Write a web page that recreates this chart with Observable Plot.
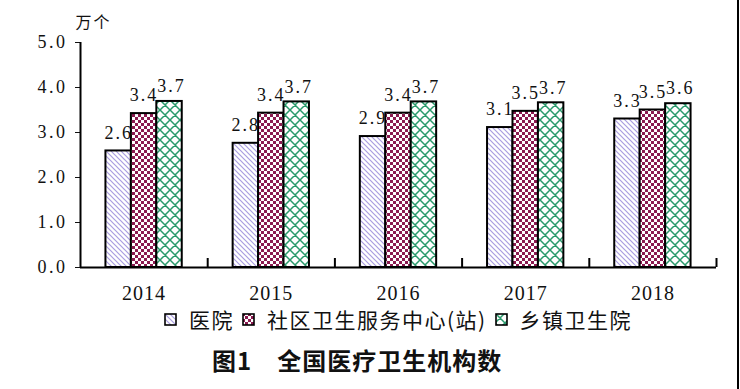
<!DOCTYPE html>
<html><head><meta charset="utf-8">
<script src="https://cdn.jsdelivr.net/npm/d3@7"></script>
<script src="https://cdn.jsdelivr.net/npm/@observablehq/plot@0.6"></script>
<style>
body{margin:0;background:#fff;}
#wrap{position:relative;width:740px;height:389px;background:#fff;overflow:hidden;}
#chart{position:absolute;left:0;top:0;}
#border{position:absolute;left:737px;top:0;width:2px;height:389px;background:#000;}
#legend{position:absolute;left:80px;width:636px;top:305px;height:28px;display:flex;justify-content:center;align-items:center;font-family:"Noto Sans CJK SC";font-size:21px;letter-spacing:1.5px;color:#111;white-space:nowrap;}
.item{display:flex;align-items:center;margin:0 4px;}
.sw{width:13px;height:13px;margin-right:12px;display:block;}
#title{position:absolute;left:212px;top:342px;font-family:"Noto Sans CJK SC";font-weight:bold;font-size:24px;letter-spacing:1px;white-space:pre;color:#111;}
#chart g[aria-label^="x-axis"] text{font-size:20px;letter-spacing:1px;}
#chart g[aria-label^="y-axis"] text{letter-spacing:2.5px;}
#chart g[aria-label^="y-axis"] line{stroke-width:2px;}
</style>
</head><body>
<div id="wrap">
  <div id="chart"></div>
  <div id="legend"></div>
  <div id="title">图1　全国医疗卫生机构数</div>
  <div id="border"></div>
</div>
<script>
const years = ["2014", "2015", "2016", "2017", "2018"];
const series = ["医院", "社区卫生服务中心(站)", "乡镇卫生院"];
const hospital = [2.59, 2.76, 2.91, 3.11, 3.30];
const community = [3.42, 3.43, 3.43, 3.47, 3.50];
const township = [3.69, 3.68, 3.68, 3.66, 3.64];
const yTicks = [0, 1, 2, 3, 4, 5];
const unitLabel = "万个";

const fills = ["url(#pHosp)", "url(#pComm)", "url(#pTown)"];
const groupPad = 0.2, barW = 0.2;

const rows = years.flatMap((yr, i) =>
  [hospital, community, township].map((vals, j) => ({i, j, year: yr, series: series[j], value: vals[i]})));

const chart = Plot.plot({
  width: 740,
  height: 305,
  marginLeft: 80,
  marginRight: 24,
  marginTop: 42,
  marginBottom: 38,
  style: {fontFamily: "'Liberation Serif', serif", fontSize: "18px", letterSpacing: "2px", background: "white", color: "#111"},
  x: {domain: [0, 5], ticks: years.map((_, i) => i + 0.5), tickFormat: v => years[Math.floor(v)], tickSize: 0, tickPadding: 18, label: null},
  y: {domain: [0, 5], ticks: yTicks, tickFormat: d => d.toFixed(1), tickSize: 5, tickPadding: 8, label: null},
  color: {domain: series, range: fills},
  marks: [
    Plot.rect(rows, {
      x1: d => d.i + groupPad + d.j * barW,
      x2: d => d.i + groupPad + (d.j + 1) * barW,
      y1: 0, y2: "value",
      fill: "series", stroke: "black", strokeWidth: 2
    }),
    Plot.text(rows.filter(d => d.j < 2), {
      x: d => d.i + groupPad + (d.j + 0.5) * barW,
      y: "value", text: d => d.value.toFixed(1), dy: -18, fontSize: 18, fill: "#111"
    }),
    Plot.text(rows.filter(d => d.j === 2), {
      x: d => d.i + groupPad + (d.j + 0.5) * barW,
      y: "value", text: d => d.value.toFixed(1), dy: -15, dx: 2, fontSize: 18, fill: "#111"
    }),
    Plot.ruleX([0], {y1: 0, y2: 5, stroke: "black", strokeWidth: 2}),
    Plot.ruleY([0], {x1: 0, x2: 5, stroke: "black", strokeWidth: 2}),
    Plot.ruleX(d3.range(1, years.length + 1), {y1: 0, y2: 0.2, stroke: "black", strokeWidth: 2}),
    Plot.text([unitLabel], {x: 0, y: 5, text: d => d, dx: 13, dy: -20, fontSize: 16, fontFamily: "Noto Sans CJK SC", fill: "#111"})
  ]
});

const defs = d3.select(chart).insert("defs", ":first-child");
// hospital: lavender diagonal stripes
const p1 = defs.append("pattern").attr("id", "pHosp").attr("patternUnits", "userSpaceOnUse").attr("width", 5).attr("height", 5);
p1.append("rect").attr("width", 5).attr("height", 5).attr("fill", "white");
p1.append("path").attr("d", "M0,0L5,5M-1,4L1,6M4,-1L6,1").attr("stroke", "#a99de0").attr("stroke-width", 1.2);
// community: checkerboard
const p2 = defs.append("pattern").attr("id", "pComm").attr("patternUnits", "userSpaceOnUse").attr("width", 6).attr("height", 6);
p2.append("rect").attr("width", 6).attr("height", 6).attr("fill", "white");
p2.append("rect").attr("width", 3).attr("height", 3).attr("fill", "#8b1a50");
p2.append("rect").attr("x", 3).attr("y", 3).attr("width", 3).attr("height", 3).attr("fill", "#8b1a50");
// township: green lattice
const p3 = defs.append("pattern").attr("id", "pTown").attr("patternUnits", "userSpaceOnUse").attr("width", 10).attr("height", 10);
p3.append("rect").attr("width", 10).attr("height", 10).attr("fill", "white");
p3.append("path").attr("d", "M0,0L10,10M10,0L0,10M-1,9L1,11M9,-1L11,1M-1,1L1,-1M9,11L11,9").attr("stroke", "#2a9a6c").attr("stroke-width", 1.5);

document.getElementById("chart").appendChild(chart);

const legend = d3.select("#legend");
series.forEach((s, j) => {
  const it = legend.append("div").attr("class", "item");
  const sv = it.append("svg").attr("class", "sw").attr("width", 13).attr("height", 13);
  sv.append("rect").attr("x", 1).attr("y", 1).attr("width", 11).attr("height", 11).attr("fill", fills[j]).attr("stroke", "black").attr("stroke-width", 1.6);
  it.append("span").text(s);
});
</script>
</body></html>
